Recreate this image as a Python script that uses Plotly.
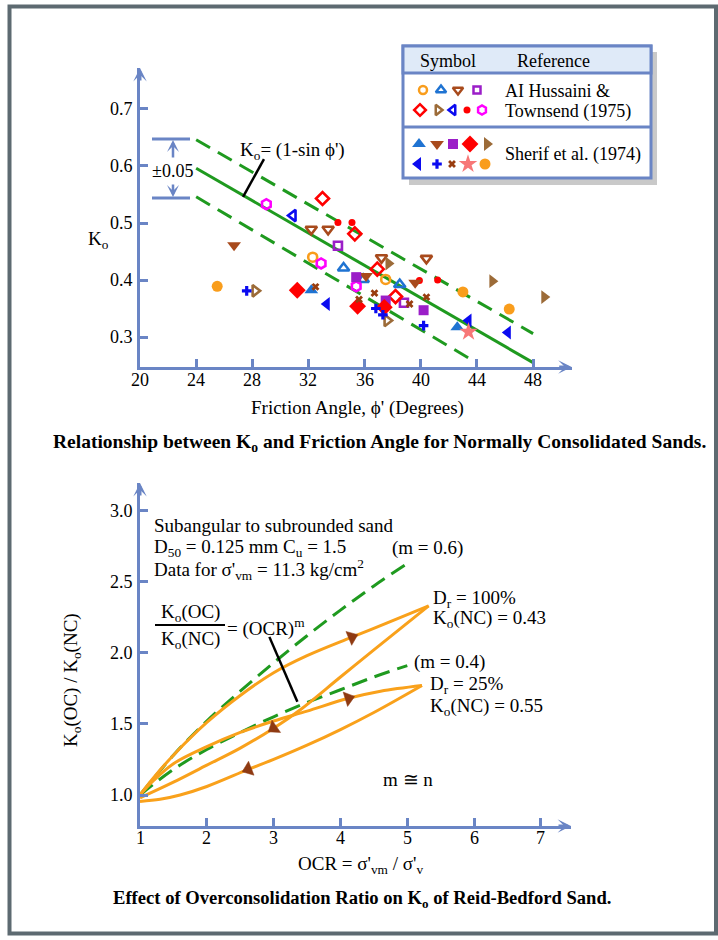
import plotly.graph_objects as go

# ================= DATA: top chart (Ko vs friction angle) =================
phi_ticks = [20, 24, 28, 32, 36, 40, 44, 48]
k_ticks = [0.3, 0.4, 0.5, 0.6, 0.7]

# Ko = (1 - sin phi') line and the +/-0.05 band, as drawn
line_phi = [24, 48]
line_k = [0.596, 0.255]
upper_phi = [24, 48]
upper_k = [0.646, 0.306]
lower_phi = [24, 43.9]
lower_k = [0.546, 0.256]

# Al Hussaini & Townsend (1975) (open symbols)
aht_circle_phi = [32.3, 37.5]
aht_circle_k = [0.440, 0.401]
aht_triup_phi = [34.5, 35.9, 38.5]
aht_triup_k = [0.421, 0.401, 0.392]
aht_tridown_phi = [32.2, 33.4, 37.2, 40.4]
aht_tridown_k = [0.489, 0.489, 0.439, 0.438]
aht_square_phi = [34.1, 38.8]
aht_square_k = [0.460, 0.360]
aht_diamond_phi = [33.0, 35.3, 36.9, 38.2]
aht_diamond_k = [0.543, 0.481, 0.419, 0.371]
aht_triright_phi = [28.2, 37.6]
aht_triright_k = [0.381, 0.329]
aht_trileft_phi = [30.9]
aht_trileft_k = [0.513]
aht_dot_phi = [34.1, 35.1, 39.9, 41.2]
aht_dot_k = [0.501, 0.501, 0.399, 0.400]
aht_hex_phi = [29.0, 32.9, 35.4]
aht_hex_k = [0.533, 0.429, 0.389]

# Sherif et al. (1974) (filled symbols)
sh_triup_phi = [32.2, 42.6]
sh_triup_k = [0.382, 0.317]
sh_tridown_phi = [26.7, 36.1, 39.6]
sh_tridown_k = [0.461, 0.407, 0.395]
sh_square_phi = [35.4, 37.5, 40.2]
sh_square_k = [0.405, 0.364, 0.347]
sh_diamond_phi = [31.2, 35.5, 37.4]
sh_diamond_k = [0.382, 0.354, 0.352]
sh_triright_phi = [37.7, 45.1, 48.8]
sh_triright_k = [0.429, 0.398, 0.370]
sh_trileft_phi = [33.3, 43.4, 46.2]
sh_trileft_k = [0.358, 0.329, 0.308]
sh_cross_phi = [27.6, 36.8, 37.3, 40.2]
sh_cross_k = [0.381, 0.350, 0.339, 0.320]
sh_x_phi = [32.5, 35.6, 36.7, 39.2, 40.4]
sh_x_k = [0.388, 0.366, 0.377, 0.358, 0.370]
sh_star_phi = [43.4]
sh_star_k = [0.309]
sh_circle_phi = [25.5, 43.0, 46.3]
sh_circle_k = [0.389, 0.379, 0.349]

# ================= DATA: bottom chart (OCR effect) =================
ocr_ticks = [1, 2, 3, 4, 5, 6, 7]
ratio_ticks = [1.0, 1.5, 2.0, 2.5, 3.0]

m06_ocr = [1.0, 1.5, 2.0, 2.5, 3.0, 3.5, 4.0, 4.5, 5.04]
m06_k = [1.0, 1.28, 1.52, 1.73, 1.93, 2.12, 2.30, 2.47, 2.64]
m04_ocr = [1.0, 1.5, 2.0, 2.5, 3.0, 3.5, 4.0, 4.5, 5.0]
m04_k = [1.0, 1.18, 1.32, 1.44, 1.55, 1.65, 1.74, 1.83, 1.91]

load100_ocr = [1.0, 1.2, 1.5, 2.0, 2.5, 3.0, 3.5, 4.17, 4.7, 5.32]
load100_k = [1.0, 1.12, 1.28, 1.51, 1.70, 1.86, 1.98, 2.11, 2.21, 2.33]
unload100_ocr = [5.32, 4.5, 4.0, 3.4, 3.0, 2.5, 2.0, 1.5, 1.0]
unload100_k = [2.33, 2.02, 1.83, 1.60, 1.47, 1.33, 1.21, 1.09, 0.98]
load25_ocr = [1.0, 1.2, 1.5, 2.0, 2.5, 3.0, 3.5, 4.12, 4.6, 5.22]
load25_k = [1.0, 1.10, 1.22, 1.34, 1.44, 1.52, 1.59, 1.68, 1.73, 1.77]
unload25_ocr = [5.22, 4.5, 4.0, 3.5, 3.0, 2.62, 2.0, 1.6, 1.3, 1.0]
unload25_k = [1.77, 1.58, 1.46, 1.35, 1.25, 1.18, 1.06, 1.00, 0.97, 0.955]

# ================= STYLE =================
W, H = 718, 940
AX = '#6a85c5'
GREEN = '#1f9a1f'
ORANGE = '#f9a11b'
BROWN_ARROW = '#8f3a12'
SERIF = "'Liberation Serif', 'Times New Roman', 'DejaVu Serif', serif"
FS = 19
FS_TICK = 18
FS_LEG = 18

C_ORANGE = '#f99d1c'
C_BLUE = '#1f73d2'
C_BROWN = '#a84a1c'
C_PURPLE = '#9b1ec8'
C_RED = '#ff0000'
C_TAN = '#9c6b38'
C_DBLUE = '#0a0af0'
C_MAG = '#ff00ff'
C_XBROWN = '#993d0f'
C_STAR = '#f77777'

# top axes pixel geometry
TX0, TX1 = 140, 571.7
TY0, TY1 = 367, 68
T_PHI0, T_PHI1 = 20, 50.75
T_K0, T_K1 = 0.2474, 0.7719
# bottom axes pixel geometry
BX0, BX1 = 140, 571
BY0, BY1 = 826, 483
B_O0, B_O1 = 1, 7.45
B_R0, B_R1 = 0.782, 3.194

fig = go.Figure()


def line_trace(x, y, color, dash, xa, ya, width=3, shape='linear'):
    fig.add_trace(go.Scatter(x=x, y=y, mode='lines',
                             line=dict(color=color, width=width, dash=dash, shape=shape),
                             xaxis=xa, yaxis=ya, hoverinfo='skip', showlegend=False,
                             cliponaxis=False))


# ---- top chart lines ----
line_trace(upper_phi, upper_k, GREEN, '16px,9px', 'x', 'y')
line_trace(lower_phi, lower_k, GREEN, '16px,9px', 'x', 'y')
line_trace(line_phi, line_k, GREEN, 'solid', 'x', 'y')

series = [
    (aht_circle_phi, aht_circle_k, 'circle-open', C_ORANGE, 9),
    (aht_triup_phi, aht_triup_k, 'triangle-up-open', C_BLUE, 10),
    (aht_tridown_phi, aht_tridown_k, 'triangle-down-open', C_BROWN, 10),
    (aht_square_phi, aht_square_k, 'square-open', C_PURPLE, 8),
    (aht_diamond_phi, aht_diamond_k, 'diamond-open', C_RED, 10),
    (aht_triright_phi, aht_triright_k, 'triangle-right-open', C_TAN, 10),
    (aht_trileft_phi, aht_trileft_k, 'triangle-left-open', C_DBLUE, 10),
    (aht_dot_phi, aht_dot_k, 'circle', C_RED, 7),
    (aht_hex_phi, aht_hex_k, 'hexagon-open', C_MAG, 10),
    (sh_triup_phi, sh_triup_k, 'triangle-up', C_BLUE, 12),
    (sh_tridown_phi, sh_tridown_k, 'triangle-down', C_BROWN, 12),
    (sh_square_phi, sh_square_k, 'square', C_PURPLE, 10),
    (sh_diamond_phi, sh_diamond_k, 'diamond', C_RED, 13),
    (sh_triright_phi, sh_triright_k, 'triangle-right', C_TAN, 12),
    (sh_trileft_phi, sh_trileft_k, 'triangle-left', C_DBLUE, 12),
    (sh_cross_phi, sh_cross_k, 'cross', C_DBLUE, 8),
    (sh_x_phi, sh_x_k, 'x', C_XBROWN, 7),
    (sh_star_phi, sh_star_k, 'star', C_STAR, 14),
    (sh_circle_phi, sh_circle_k, 'circle', C_ORANGE, 11),
]
for xs, ys, sym, col, size in series:
    is_open = sym.endswith('-open')
    fig.add_trace(go.Scatter(
        x=xs, y=ys, mode='markers', xaxis='x', yaxis='y', cliponaxis=False,
        marker=dict(symbol=sym, color=col, size=size,
                    line=dict(width=2.6 if is_open else 0, color=col)),
        hoverinfo='skip', showlegend=False))

# ---- bottom chart lines ----
line_trace(m06_ocr, m06_k, GREEN, '16px,8px', 'x2', 'y2', shape='spline')
line_trace(m04_ocr, m04_k, GREEN, '16px,8px', 'x2', 'y2', shape='spline')
for xs, ys in [(load100_ocr, load100_k), (unload100_ocr, unload100_k),
               (load25_ocr, load25_k), (unload25_ocr, unload25_k)]:
    line_trace(xs, ys, ORANGE, 'solid', 'x2', 'y2', shape='spline')

# arrowheads on the loading/unloading paths: centred triangle at a curve vertex,
# oriented along the path (from the previous vertex)
for xs, ys, i in [(load100_ocr, load100_k, 7), (unload100_ocr, unload100_k, 4),
                  (load25_ocr, load25_k, 7), (unload25_ocr, unload25_k, 5)]:
    fig.add_trace(go.Scatter(
        x=[xs[i - 1], xs[i]], y=[ys[i - 1], ys[i]], mode='markers',
        xaxis='x2', yaxis='y2', cliponaxis=False, hoverinfo='skip', showlegend=False,
        marker=dict(symbol='triangle-up', angleref='previous', size=[0, 13],
                    color=BROWN_ARROW, opacity=1, line=dict(width=0.5, color=BROWN_ARROW))))

ann = []
# ---- axis arrowheads ----
for xr, yr, x, y, ax_, ay_ in [('x', 'y', T_PHI1, T_K0, -14, 0), ('x', 'y', T_PHI0, T_K1, 0, 14),
                                ('x2', 'y2', B_O1, B_R0, -14, 0), ('x2', 'y2', B_O0, B_R1, 0, 14)]:
    ann.append(dict(x=x, y=y, xref=xr, yref=yr, text='', showarrow=True, ax=ax_, ay=ay_,
                    arrowhead=3, arrowsize=0.75, arrowwidth=3, arrowcolor=AX, standoff=0))


def txt(x, y, s, xanchor='left', size=FS, bold=False, angle=0, xref='x3', yref='y3'):
    if bold:
        s = '<b>' + s + '</b>'
    ann.append(dict(x=x, y=y, xref=xref, yref=yref, text=s, showarrow=False,
                    xanchor=xanchor, yanchor='middle', textangle=angle,
                    font=dict(family=SERIF, size=size, color='black')))


# ---- tick labels (placed at the axis values) ----
for v in phi_ticks:
    txt(v, 380, str(v), 'center', size=FS_TICK, xref='x')
for v in k_ticks:
    txt(135, v, '%.1f' % v, 'right', size=FS_TICK, yref='y')
for v in ocr_ticks:
    txt(v, 838, str(v), 'center', size=FS_TICK, xref='x2')
for v in ratio_ticks:
    txt(135, v, '%.1f' % v, 'right', size=FS_TICK, yref='y2')

# ---- top chart texts ----
txt(98, 240, 'K<sub>o</sub>', 'center')
txt(238, 151, "K<sub>o</sub>= (1-sin ϕ')")
txt(172, 171, '±0.05', 'center', size=18)
txt(357, 408, "Friction Angle, ϕ' (Degrees)", 'center')
txt(379, 443, 'Relationship between K<sub>o</sub> and Friction Angle for Normally Consolidated Sands.',
    'center', size=19.5, bold=True)
# legend texts
txt(448, 61, 'Symbol', 'center', size=FS_LEG)
txt(553, 61, 'Reference', 'center', size=FS_LEG)
txt(503, 91, 'AI Hussaini &amp;', size=FS_LEG)
txt(503, 111, 'Townsend (1975)', size=FS_LEG)
txt(503, 154, 'Sherif et al. (1974)', size=FS_LEG)

# ±0.05 arrows
for y_tip, y_tail in [(140, 159), (197, 183)]:
    ann.append(dict(x=173, y=y_tip, xref='x3', yref='y3', ax=173, ay=y_tail, axref='x3', ayref='y3',
                    text='', showarrow=True, arrowhead=3, arrowsize=0.8, arrowwidth=2.5,
                    arrowcolor=AX, standoff=0))

# ---- bottom chart texts ----
txt(152, 525, 'Subangular to subrounded sand')
txt(152, 548, 'D<sub>50</sub> = 0.125 mm C<sub>u</sub> = 1.5')
txt(152, 569, "Data for σ'<sub>vm</sub> = 11.3 kg/cm<sup>2</sup>")
txt(190, 613, 'K<sub>o</sub>(OC)', 'center')
txt(190, 640, 'K<sub>o</sub>(NC)', 'center')
txt(225, 627, '= (OCR)<sup>m</sup>')
txt(390, 548, '(m = 0.6)')
txt(431, 599, 'D<sub>r</sub> = 100%')
txt(431, 619, 'K<sub>o</sub>(NC) = 0.43')
txt(412, 662, '(m = 0.4)')
txt(428, 685, 'D<sub>r</sub> = 25%')
txt(428, 707, 'K<sub>o</sub>(NC) = 0.55')
txt(408, 779, 'm ≅ n', 'center')
txt(360, 865, "OCR = σ'<sub>vm</sub> / σ'<sub>v</sub>", 'center')
txt(72, 680, 'K<sub>o</sub>(OC) / K<sub>o</sub>(NC)', 'center', angle=-90)
txt(362, 899, 'Effect of Overconsolidation Ratio on K<sub>o</sub> of Reid-Bedford Sand.',
    'center', size=18.6, bold=True)

# ---- legend glyphs (pixel overlay axis) ----
legend_glyphs = [
    ('circle-open', C_ORANGE, 423, 90, 8), ('triangle-up-open', C_BLUE, 441, 90, 9),
    ('triangle-down-open', C_BROWN, 458, 90, 9), ('square-open', C_PURPLE, 477, 90, 7),
    ('diamond-open', C_RED, 420, 110, 9), ('triangle-right-open', C_TAN, 438, 110, 9),
    ('triangle-left-open', C_DBLUE, 453, 110, 9), ('circle', C_RED, 467, 110, 7),
    ('hexagon-open', C_MAG, 482, 110, 9),
    ('triangle-up', C_BLUE, 419, 144, 12), ('triangle-down', C_BROWN, 437, 144, 12),
    ('square', C_PURPLE, 453, 144, 10), ('diamond', C_RED, 470, 144, 13),
    ('triangle-right', C_TAN, 487, 144, 12),
    ('triangle-left', C_DBLUE, 418, 164, 12), ('cross', C_DBLUE, 437, 164, 8),
    ('x', C_XBROWN, 452, 164, 7), ('star', C_STAR, 468, 164, 14),
    ('circle', C_ORANGE, 485, 164, 11),
]
for sym, col, gx, gy, size in legend_glyphs:
    is_open = sym.endswith('-open')
    fig.add_trace(go.Scatter(
        x=[gx], y=[gy], mode='markers', xaxis='x3', yaxis='y3', cliponaxis=False,
        marker=dict(symbol=sym, color=col, size=size,
                    line=dict(width=2.5 if is_open else 0, color=col)),
        hoverinfo='skip', showlegend=False))

# ---- shapes ----
shapes = [
    # frame
    dict(type='rect', xref='x3', yref='y3', x0=9.5, y0=6.5, x1=716, y1=933.5,
         line=dict(color='#5d6a71', width=4), layer='below'),
    # legend shadow, box, header
    dict(type='rect', xref='x3', yref='y3', x0=409, y0=52, x1=657, y1=185,
         fillcolor='#c9c9c9', line=dict(width=0), layer='below'),
    dict(type='rect', xref='x3', yref='y3', x0=403, y0=46, x1=651, y1=178,
         fillcolor='white', line=dict(color=AX, width=3), layer='below'),
    dict(type='rect', xref='x3', yref='y3', x0=403, y0=46, x1=651, y1=73,
         fillcolor='#dfeaf8', line=dict(color=AX, width=3), layer='below'),
    dict(type='line', xref='x3', yref='y3', x0=403, y0=127, x1=651, y1=127,
         line=dict(color=AX, width=3)),
    # ±0.05 bracket bars
    dict(type='line', xref='x3', yref='y3', x0=152, y0=139, x1=190, y1=139, line=dict(color=AX, width=3)),
    dict(type='line', xref='x3', yref='y3', x0=152, y0=198, x1=190, y1=198, line=dict(color=AX, width=3)),
    # leader lines
    dict(type='line', xref='x', yref='y', x0=28.83, y0=0.612, x1=27.34, y1=0.546,
         line=dict(color='black', width=2.5)),
    dict(type='line', xref='x2', yref='y2', x0=2.936, y0=2.112, x1=3.355, y1=1.655,
         line=dict(color='black', width=2.5)),
    # fraction bar
    dict(type='line', xref='x3', yref='y3', x0=155, y0=625, x1=225, y1=625,
         line=dict(color='black', width=2)),
]

axis_common = dict(showgrid=False, zeroline=False, showline=True, linecolor=AX, linewidth=3,
                   ticks='inside', ticklen=8, tickwidth=3, tickcolor=AX, showticklabels=False,
                   fixedrange=True, automargin=False)

fig.update_layout(
    width=W, height=H, margin=dict(l=0, r=0, t=0, b=0, autoexpand=False),
    paper_bgcolor='white', plot_bgcolor='rgba(0,0,0,0)', showlegend=False,
    xaxis=dict(domain=[TX0 / W, TX1 / W], range=[T_PHI0, T_PHI1], anchor='y',
               tickvals=phi_ticks, **axis_common),
    yaxis=dict(domain=[1 - TY0 / H, 1 - TY1 / H], range=[T_K0, T_K1], anchor='x',
               tickvals=k_ticks, **axis_common),
    xaxis2=dict(domain=[BX0 / W, BX1 / W], range=[B_O0, B_O1], anchor='y2',
                tickvals=ocr_ticks, **axis_common),
    yaxis2=dict(domain=[1 - BY0 / H, 1 - BY1 / H], range=[B_R0, B_R1], anchor='x2',
                tickvals=ratio_ticks, **axis_common),
    xaxis3=dict(domain=[0, 1], range=[0, W], anchor='y3', visible=False, fixedrange=True),
    yaxis3=dict(domain=[0, 1], range=[H, 0], anchor='x3', visible=False, fixedrange=True),
    annotations=ann, shapes=shapes,
)

fig.write_html(
    'out.html',
    post_script=("document.documentElement.style.margin='0';"
                 "document.body.style.margin='0';document.body.style.padding='0';"),
)
